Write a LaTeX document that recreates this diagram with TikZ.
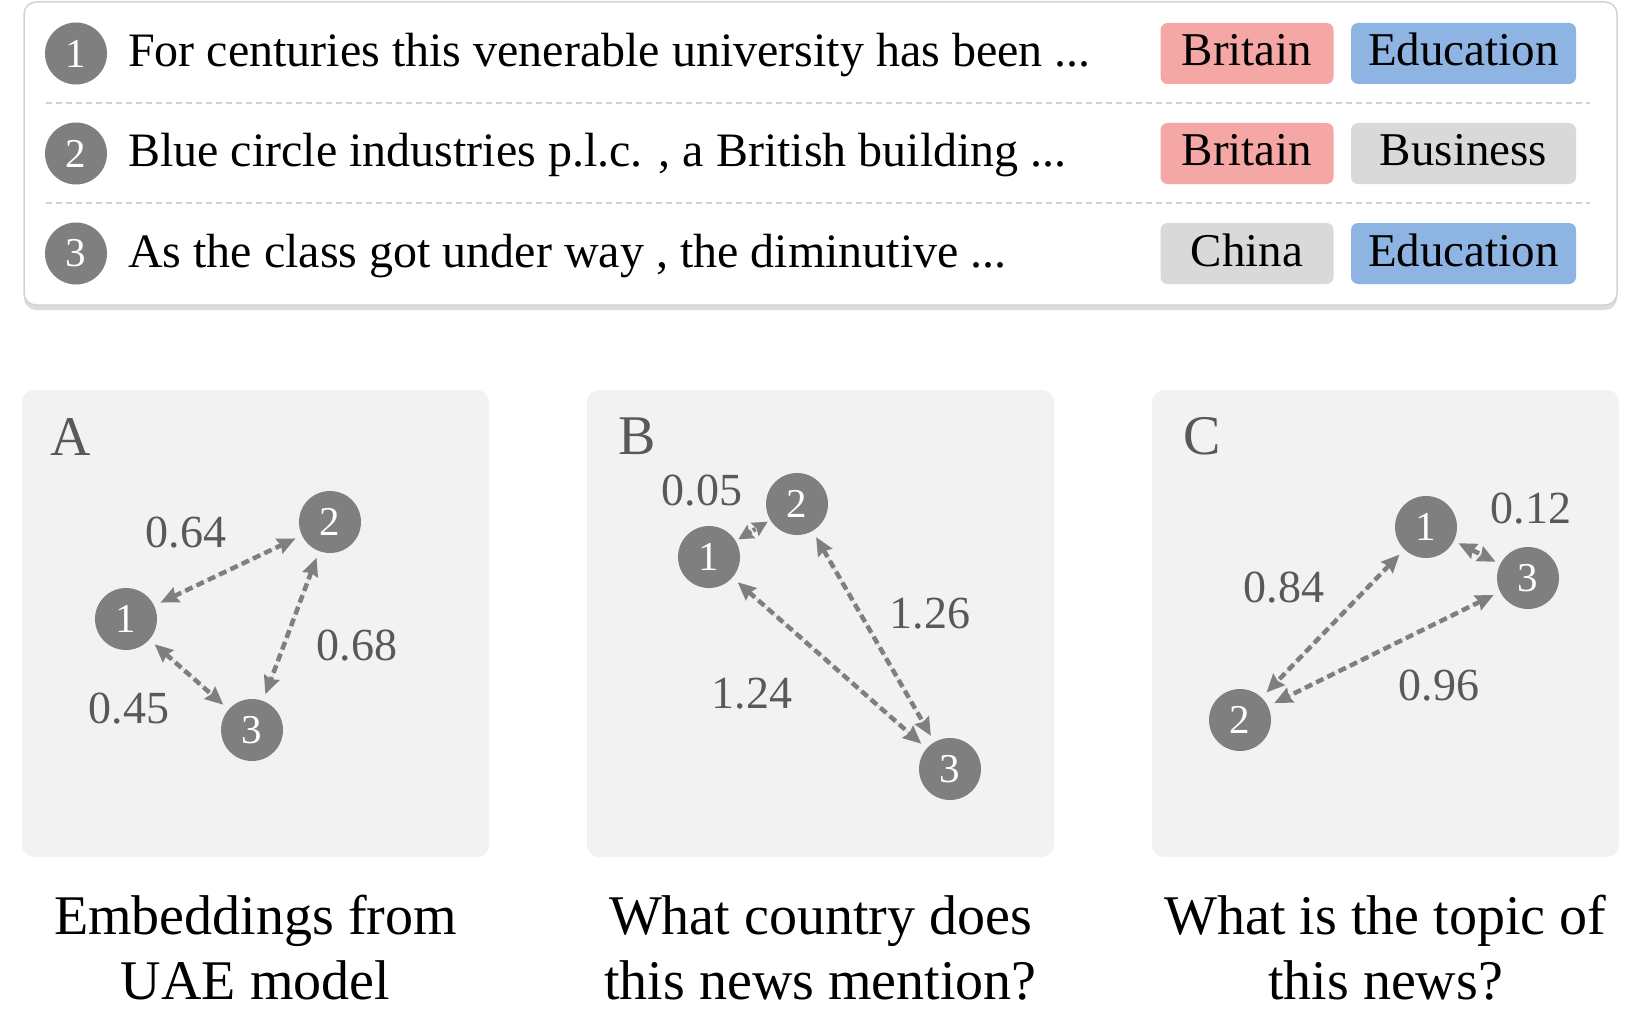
\documentclass[tikz,border=0pt]{standalone}
\usepackage{fontspec}
\setmainfont{Liberation Serif}
\usetikzlibrary{arrows.meta,shadows}
\definecolor{pinkc}{HTML}{F5A7A6}
\definecolor{bluec}{HTML}{8DB4E2}
\definecolor{greyc}{HTML}{D9D9D9}
\definecolor{panelc}{HTML}{F2F2F2}
\definecolor{nodec}{HTML}{7F7F7F}
\definecolor{labc}{HTML}{595959}
\definecolor{sepc}{HTML}{D0D0D0}
\definecolor{borderc}{HTML}{D2D2D2}
\begin{document}
\begin{tikzpicture}[x=1pt,y=-1pt,
  topbox/.style={draw=borderc, line width=1.5pt, fill=white, rounded corners=12pt,
    minimum width=1593pt, minimum height=303pt, inner sep=0pt,
    drop shadow={shadow xshift=0pt, shadow yshift=-5pt, opacity=0.3, fill=black!45}},
  num/.style={circle, fill=nodec, minimum size=62pt, inner sep=0pt, text=white,
    font=\fontsize{41}{41}\selectfont},
  rowtext/.style={anchor=base west, inner sep=0pt, font=\fontsize{48}{50}\selectfont},
  tag/.style={rounded corners=7pt, minimum height=61pt, inner sep=0pt,
    text height=31pt, text depth=6pt, font=\fontsize{47}{50}\selectfont},
  britag/.style={tag, minimum width=173pt},
  edutag/.style={tag, minimum width=225pt},
  sepline/.style={draw=sepc, line width=1.5pt, dash pattern=on 6pt off 4pt},
  panel/.style={fill=panelc, rounded corners=12pt, minimum size=467pt, inner sep=0pt},
  plabel/.style={anchor=base west, inner sep=0pt, text=labc, font=\fontsize{56}{56}\selectfont},
  dlabel/.style={anchor=base, inner sep=0pt, text=labc, font=\fontsize{46}{46}\selectfont},
  caption/.style={anchor=base, inner sep=0pt, font=\fontsize{56}{56}\selectfont},
  dist/.style={{Stealth[length=18pt,width=16pt,inset=2pt]}-{Stealth[length=18pt,width=16pt,inset=2pt]},
    draw=nodec, fill=nodec, line width=4.5pt, dash pattern=on 8pt off 4.5pt,
    shorten <=7pt, shorten >=7pt},
  shortdist/.style={dist, shorten <=3pt, shorten >=3pt,
    {Stealth[length=15pt,width=15pt,inset=2pt]}-{Stealth[length=15pt,width=15pt,inset=2pt]},
    dash pattern=on 3pt off 2pt},
]
\useasboundingbox (0,0) rectangle (1644,1022);

% ---------- top box ----------
\node[topbox] (box) at (820.5,153.5) {};
\draw[sepline] (46,103) -- (1590,103);
\draw[sepline] (46,203) -- (1590,203);

\node[num] (r1) at (76,53.5) {1};
\node[num] (r2) at (76,153.5) {2};
\node[num] (r3) at (76,253.5) {3};

\node[rowtext] (s1) at (128,67) {For centuries this venerable university has been ...};
\node[rowtext] (s2) at (128,167) {Blue circle industries p.l.c. , a British building ...};
\node[rowtext] (s3) at (128,267) {As the class got under way , the diminutive ...};

\node[britag, fill=pinkc] (c1) at (1247,53.5) {Britain};
\node[edutag, fill=bluec] (t1) at (1463.5,53.5) {Education};
\node[britag, fill=pinkc] (c2) at (1247,153.5) {Britain};
\node[edutag, fill=greyc] (t2) at (1463.5,153.5) {Business};
\node[britag, fill=greyc] (c3) at (1247,253.5) {China};
\node[edutag, fill=bluec] (t3) at (1463.5,253.5) {Education};

% ---------- panels ----------
\node[panel] (pA) at (255.5,623.5) {};
\node[panel] (pB) at (820.5,623.5) {};
\node[panel] (pC) at (1385.5,623.5) {};

\node[plabel] (LA) at (50,455) {A};
\node[plabel] (LB) at (618,454) {B};
\node[plabel] (LC) at (1183,454) {C};

% Panel A
\node[num] (a1) at (126,619) {1};
\node[num] (a2) at (330,522) {2};
\node[num] (a3) at (252,730) {3};
\draw[dist] (a1) -- (a2);
\draw[dist] (a2) -- (a3);
\draw[dist] (a1) -- (a3);
\node[dlabel] (a12) at (186,547) {0.64};
\node[dlabel] (a23) at (357,660) {0.68};
\node[dlabel] (a13) at (129,723) {0.45};

% Panel B
\node[num] (b1) at (709,557) {1};
\node[num] (b2) at (797,504) {2};
\node[num] (b3) at (950,769) {3};
\draw[shortdist] (b1) -- (b2);
\draw[dist] (b2) -- (b3);
\draw[dist] (b1) -- (b3);
\node[dlabel] (b12) at (702,505) {0.05};
\node[dlabel] (b23) at (930,628) {1.26};
\node[dlabel] (b13) at (752,708) {1.24};

% Panel C
\node[num] (cc1) at (1426,527) {1};
\node[num] (cc2) at (1240,720) {2};
\node[num] (cc3) at (1528,578) {3};
\draw[dist, shorten <=5pt, shorten >=5pt] (cc1) -- (cc3);
\draw[dist] (cc1) -- (cc2);
\draw[dist] (cc3) -- (cc2);
\node[dlabel] (c13) at (1531,523) {0.12};
\node[dlabel] (c12) at (1284,602) {0.84};
\node[dlabel] (c23) at (1439,700) {0.96};

% ---------- captions ----------
\node[caption] (capA1) at (255.5,934) {Embeddings from};
\node[caption] (capA2) at (255.5,999) {UAE model};
\node[caption] (capB1) at (820.5,934) {What country does};
\node[caption] (capB2) at (820.5,999) {this news mention?};
\node[caption] (capC1) at (1385.5,934) {What is the topic of};
\node[caption] (capC2) at (1385.5,999) {this news?};
\end{tikzpicture}
\end{document}
